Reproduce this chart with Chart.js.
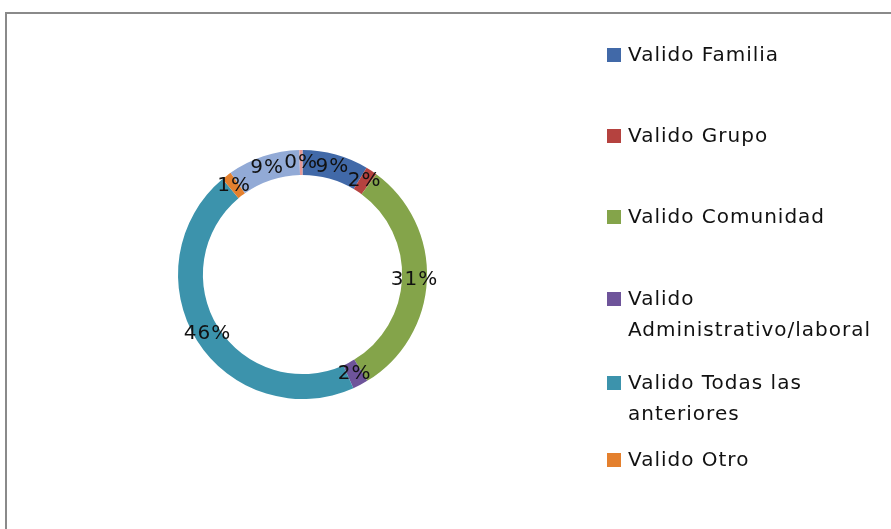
<!DOCTYPE html>
<html>
<head>
<meta charset="utf-8">
<script src="https://cdn.jsdelivr.net/npm/chart.js@4.4.1/dist/chart.umd.min.js"></script>
<style>
  html, body { margin: 0; padding: 0; background: #fff; }
  #wrap { position: relative; width: 891px; height: 529px; overflow: hidden; }
  #frame { position: absolute; left: 5px; top: 12px; width: 900px; height: 600px; border: 2px solid #8a8a8a; box-sizing: border-box; }
  #chart { position: absolute; left: 0; top: 0; }
  #legend { position: absolute; left: 607px; top: 0; width: 284px; font-family: "DejaVu Sans", sans-serif; font-size: 20px; letter-spacing: 1px; color: #111; }
  .item { position: absolute; left: 0; width: 276px; line-height: 31px; }
  .sw { position: absolute; left: 0; top: 9px; width: 14px; height: 14px; }
  .tx { margin-left: 21px; display: block; }
</style>
</head>
<body>
<div id="wrap">
  <div id="frame"></div>
  <canvas id="chart" width="891" height="529"></canvas>
  <div id="legend"></div>
</div>
<script>
const categories = [
  "Valido Familia",
  "Valido Grupo",
  "Valido Comunidad",
  "Valido Administrativo/laboral",
  "Valido Todas las anteriores",
  "Valido Otro",
  "Perdidos Sistema",
  "Perdidos Otro"
];
const percentValues = [8.6, 1.5, 31.2, 2.0, 45.6, 1.3, 9.4, 0.4];
const percentLabels = ["9%", "2%", "31%", "2%", "46%", "1%", "9%", "0%"];
const colors = ["#4169A8", "#B5423F", "#84A44A", "#6E549A", "#3C93AC", "#E4802E", "#92AAD6", "#E79996"];
const legendCount = 6;

const labelPlugin = {
  id: 'ringLabels',
  afterDatasetsDraw(chart) {
    const ctx = chart.ctx;
    const meta = chart.getDatasetMeta(0);
    ctx.save();
    ctx.font = '20px "DejaVu Sans", sans-serif';
    if ('letterSpacing' in ctx) ctx.letterSpacing = '1px';
    ctx.fillStyle = '#111';
    ctx.textAlign = 'center';
    ctx.textBaseline = 'middle';
    meta.data.forEach((arc, i) => {
      const p = arc.tooltipPosition();
      ctx.fillText(percentLabels[i], p.x, p.y);
    });
    ctx.restore();
  }
};

new Chart(document.getElementById('chart'), {
  type: 'doughnut',
  data: {
    labels: categories,
    datasets: [{
      data: percentValues,
      backgroundColor: colors,
      borderWidth: 0
    }]
  },
  options: {
    responsive: false,
    animation: false,
    cutout: '80%',
    layout: { padding: { left: 178, right: 464, top: 150, bottom: 130 } },
    plugins: {
      legend: { display: false },
      tooltip: { enabled: false }
    }
  },
  plugins: [labelPlugin]
});

const legendTops = [39, 120, 201, 283, 367, 444];
const legendEl = document.getElementById('legend');
for (let i = 0; i < legendCount; i++) {
  const it = document.createElement('div');
  it.className = 'item';
  it.style.top = legendTops[i] + 'px';
  const sw = document.createElement('span');
  sw.className = 'sw';
  sw.style.background = colors[i];
  const tx = document.createElement('span');
  tx.className = 'tx';
  tx.textContent = categories[i];
  it.appendChild(sw);
  it.appendChild(tx);
  legendEl.appendChild(it);
}
</script>
</body>
</html>
